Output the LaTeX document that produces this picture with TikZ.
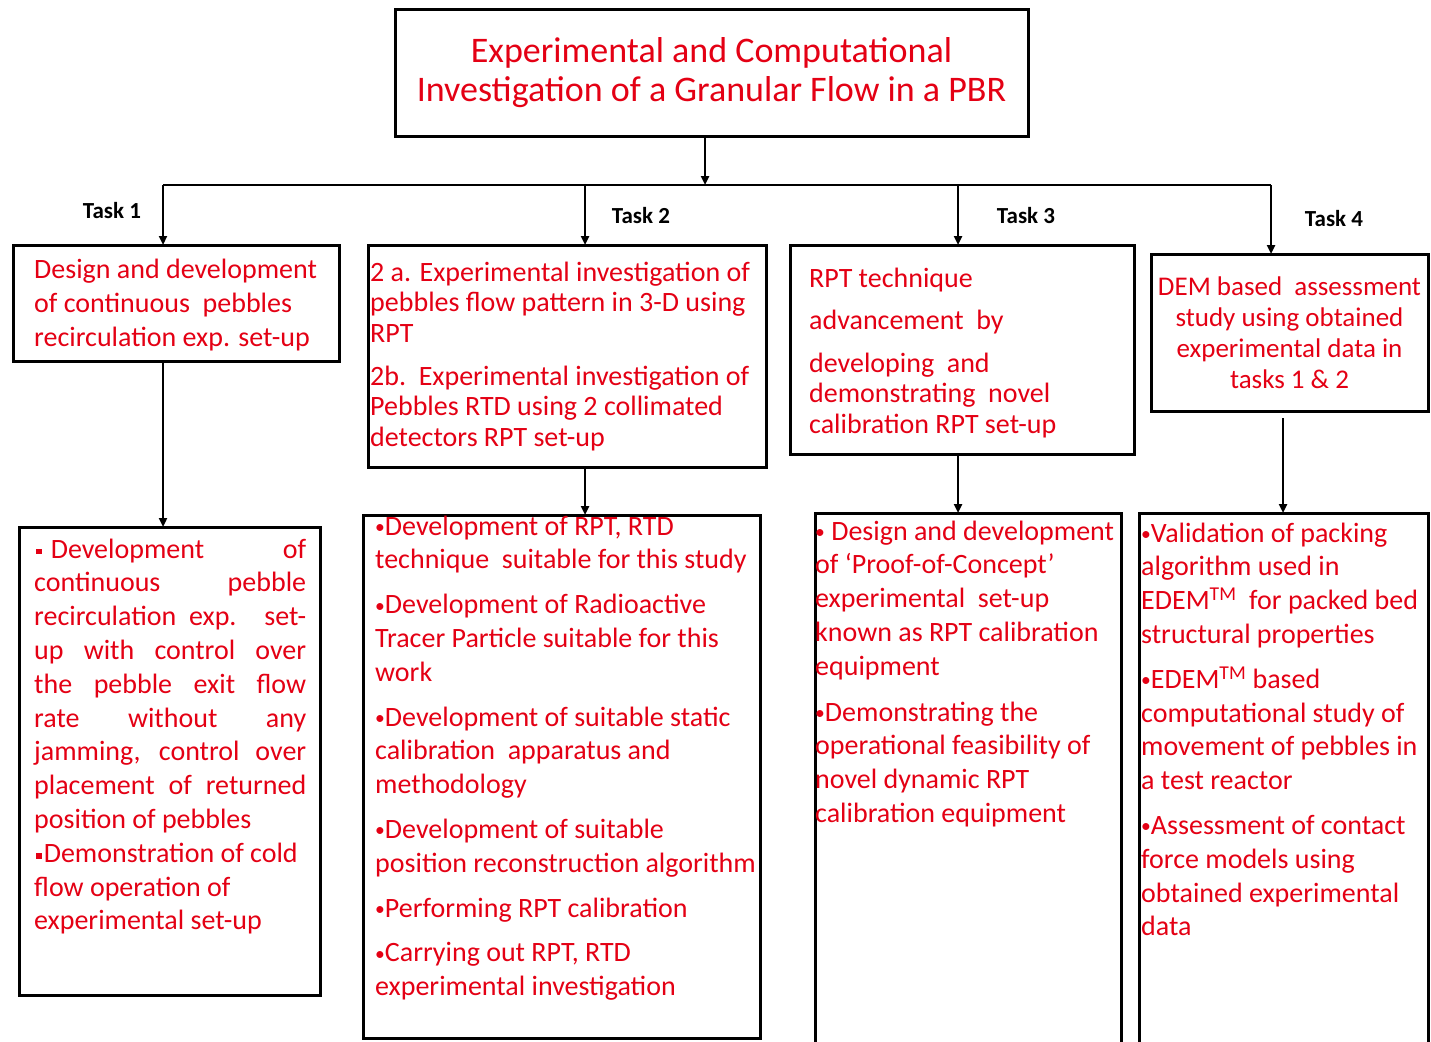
\documentclass[tikz,border=0pt]{standalone}
\usepackage{fontspec}
\setmainfont{Carlito}
\usetikzlibrary{arrows.meta}
\definecolor{tred}{RGB}{228,0,20}
\newcommand{\sqb}{\rule[0.28ex]{0.2em}{0.2em}}
\newcommand{\bul}{\raisebox{0.12ex}{\scalebox{0.7}{•}}}
\newcommand{\jl}[1]{\makebox[272pt][s]{#1}}
\begin{document}
\begin{tikzpicture}[x=1pt,y=-1pt,
  box/.style={draw=black,line width=3pt,inner sep=0pt,outer sep=0pt},
  txt/.style={text=tred,anchor=north west,inner sep=0pt,align=left},
  rowone/.style={font=\fontsize{28}{34}\selectfont},
  rowtwo/.style={font=\fontsize{28}{33.8}\selectfont},
  conn/.style={line width=2.5pt,-{Triangle[length=9pt,width=8pt]}},
  tasklbl/.style={font=\fontsize{23}{26}\selectfont\bfseries,inner sep=0pt}]
\useasboundingbox[fill=white] (0,0) rectangle (1431,1041);

% title
\node[box,minimum width=633pt,minimum height=126pt,text=tred,align=center,
      font=\fontsize{36}{39}\selectfont] (title) at (711.5,73)
  {Experimental and Computational\\Investigation of a Granular Flow in a PBR};

% row 1 boxes
\node[box,anchor=north west,minimum width=326pt,minimum height=116pt] (b1) at (13,245) {};
\node[box,anchor=north west,minimum width=398pt,minimum height=222pt] (b2) at (368,245) {};
\node[box,anchor=north west,minimum width=344pt,minimum height=209pt] (b3) at (790,245) {};
\node[box,anchor=center,minimum width=277pt,minimum height=157pt,text=tred,align=center,
      font=\fontsize{27}{31}\selectfont] (b4) at (1289.5,332.5)
  {DEM based\ \ assessment\\study using obtained\\experimental data in\\tasks 1 \& 2};

% row 2 boxes
\node[box,anchor=north west,minimum width=301pt,minimum height=468pt] (b5) at (19,527) {};
\node[box,anchor=north west,minimum width=397pt,minimum height=523pt] (b6) at (363,515) {};
\node[box,anchor=north west,minimum width=306pt,minimum height=533pt] (b7) at (815,513) {};
\node[box,anchor=north west,minimum width=289pt,minimum height=533pt] (b8) at (1139,513) {};

% row 1 texts
\node[txt,rowone] (t1) at (34,254.2)
  {\strut Design and development\\of continuous\ \ pebbles\\recirculation exp. set-up};
\node[txt,font=\fontsize{28}{30.5}\selectfont] (t2) at (370,259.6)
  {\strut 2 a. Experimental investigation of\\pebbles flow pattern in 3-D using\\RPT\\[12.5pt]
   2b.\ \ Experimental investigation of\\Pebbles RTD using 2 collimated\\detectors RPT set-up};
\node[txt,font=\fontsize{28}{30.5}\selectfont] (t3) at (809,265.6)
  {\strut RPT technique\\[11.5pt]advancement\ \ by\\[12.5pt]developing\ \ and\\demonstrating\ \ novel\\calibration RPT set-up};

% row 2 texts
\node[txt,rowtwo] (t5) at (34,534.3)
  {\strut\jl{\kern2pt\sqb\kern9pt Development of}\\
   \jl{continuous pebble}\\
   \jl{recirculation exp. set-}\\
   \jl{up with control over}\\
   \jl{the pebble exit flow}\\
   \jl{rate without any}\\
   \jl{jamming, control over}\\
   \jl{placement of returned}\\
   position of pebbles\\
   \kern2pt\sqb\kern2pt Demonstration of cold\\
   flow operation of\\
   experimental set-up};
\node[txt,rowtwo] (t6) at (375,511.3)
  {\strut \bul Development of RPT, RTD\\technique\ \ suitable for this study\\[11pt]
   \bul Development of Radioactive\\Tracer Particle suitable for this\\work\\[11pt]
   \bul Development of suitable static\\calibration\ \ apparatus and\\methodology\\[11pt]
   \bul Development of suitable\\position reconstruction algorithm\\[11pt]
   \bul Performing RPT calibration\\[11pt]
   \bul Carrying out RPT, RTD\\experimental investigation};
\node[txt,rowtwo] (t7) at (815,516.3)
  {\strut \bul\ Design and development\\of ‘Proof-of-Concept’\\experimental\ \ set-up\\known as RPT calibration\\equipment\\[12pt]
   \bul Demonstrating the\\operational feasibility of\\novel dynamic RPT\\calibration equipment};
\node[txt,rowtwo] (t8) at (1141,518.3)
  {\strut \bul Validation of packing\\algorithm used in\\EDEM\textsuperscript{TM}\ \ for packed bed\\structural properties\\[11pt]
   \bul EDEM\textsuperscript{TM} based\\computational study of\\movement of pebbles in\\a test reactor\\[11pt]
   \bul Assessment of contact\\force models using\\obtained experimental\\data};

% task labels
\node[tasklbl] (l1) at (112,211) {Task 1};
\node[tasklbl] (l2) at (641,216) {Task 2};
\node[tasklbl] (l3) at (1026,216) {Task 3};
\node[tasklbl] (l4) at (1334,219) {Task 4};

% connectors
\coordinate (d0) at (705,185);
\coordinate (d1) at (163,185);
\coordinate (d2) at (585,185);
\coordinate (d3) at (958,185);
\coordinate (d4) at (1271,185);
\coordinate (e4) at (1283,185);
\draw[line width=2.5pt] (d1) -- (d4);
\draw[conn] (d0 |- title.south) -- (d0);
\draw[conn] (d1) -- (d1 |- b1.north);
\draw[conn] (d2) -- (d2 |- b2.north);
\draw[conn] (d3) -- (d3 |- b3.north);
\draw[conn] (d4) -- (d4 |- b4.north);
\draw[conn] (d1 |- b1.south) -- (d1 |- b5.north);
\draw[conn] (d2 |- b2.south) -- (d2 |- b6.north);
\draw[conn] (d3 |- b3.south) -- (d3 |- b7.north);
\draw[conn] ([yshift=-7pt]e4 |- b4.south) -- (e4 |- b8.north);
\end{tikzpicture}
\end{document}
